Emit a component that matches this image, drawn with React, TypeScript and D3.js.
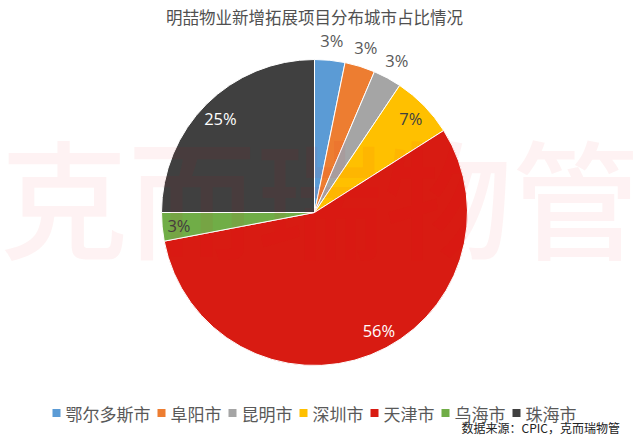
import React from "react";
import * as d3 from "d3";

const title = "明喆物业新增拓展项目分布城市占比情况";
const cities = ["鄂尔多斯市", "阜阳市", "昆明市", "深圳市", "天津市", "乌海市", "珠海市"];
const shares = [3.2, 3.2, 3.0, 6.6, 56.0, 3.0, 25.0];
const labels = ["3%", "3%", "3%", "7%", "56%", "3%", "25%"];
const colors = ["#5B9BD5", "#ED7D31", "#A5A5A5", "#FFC000", "#D81B12", "#70AD47", "#404040"];
const source = "数据来源：CPIC，克而瑞物管";
const watermark = "克而瑞物管";

// label placement: radius factor relative to pie radius, angle nudge (deg), text colour
const labelPlacement = [
  { rf: 1.13, da: 0, color: "#595959" },
  { rf: 1.13, da: 0, color: "#595959" },
  { rf: 1.13, da: 0, color: "#595959" },
  { rf: 0.88, da: 0, color: "#404040" },
  { rf: 0.88, da: -7, color: "#ffffff" },
  { rf: 0.89, da: 0, color: "#404040" },
  { rf: 0.87, da: 0, color: "#ffffff" },
];

const W = 640;
const H = 439;
const cx = 314.5;
const cy = 212.5;
const R = 153;

export default function App() {
  const pie = d3.pie<number>().sort(null).value((d) => d)(shares);
  const arc = d3.arc<d3.PieArcDatum<number>>().innerRadius(0).outerRadius(R);

  const legendFont = 17;
  const start = cx - 262;
  let x = start;
  const legendItems = cities.map((c, i) => {
    const item = { x, c, i };
    x += 8 + 5 + c.length * legendFont + 7;
    return item;
  });
  const totalW = x - 7 - start;
  const shift = cx - (start + totalW / 2);

  return (
    <svg
      width={W}
      height={H}
      style={{ position: "absolute", left: 0, top: 0, background: "#fff" }}
      fontFamily="'Noto Sans CJK SC', 'Noto Sans', sans-serif"
    >
      <rect width={W} height={H} fill="#fff" />
      <text
        x={cx}
        y={17}
        textAnchor="middle"
        dominantBaseline="central"
        fontSize={16.5}
        fill="#505050"
      >
        {title}
      </text>
      <g transform={`translate(${cx},${cy})`}>
        {pie.map((p, i) => (
          <path key={i} d={arc(p) || ""} fill={colors[i]} stroke="#fff" strokeWidth={1} />
        ))}
        {pie.map((p, i) => {
          const lp = labelPlacement[i];
          const a = (p.startAngle + p.endAngle) / 2 + (lp.da * Math.PI) / 180;
          const r = R * lp.rf;
          return (
            <text
              key={"l" + i}
              x={r * Math.sin(a)}
              y={-r * Math.cos(a)}
              textAnchor="middle"
              dominantBaseline="central"
              fontFamily="'Open Sans', 'Noto Sans', sans-serif"
              fontSize={16.5}
              fill={lp.color}
            >
              {labels[i]}
            </text>
          );
        })}
      </g>
      <text
        x={W / 2}
        y={194}
        textAnchor="middle"
        dominantBaseline="central"
        fontSize={128}
        fontWeight={500}
        fill="#e8000b"
        fillOpacity={0.05}
      >
        {watermark}
      </text>
      <g transform={`translate(${shift},0)`}>
        {legendItems.map(({ x, c, i }) => (
          <g key={c}>
            <rect x={x} y={409} width={8} height={8} fill={colors[i]} />
            <text
              x={x + 13}
              y={413}
              dominantBaseline="central"
              fontSize={legendFont}
              fill="#595959"
            >
              {c}
            </text>
          </g>
        ))}
      </g>
      <text
        x={620}
        y={427}
        textAnchor="end"
        dominantBaseline="central"
        fontSize={12}
        fill="#222"
      >
        {source}
      </text>
    </svg>
  );
}
